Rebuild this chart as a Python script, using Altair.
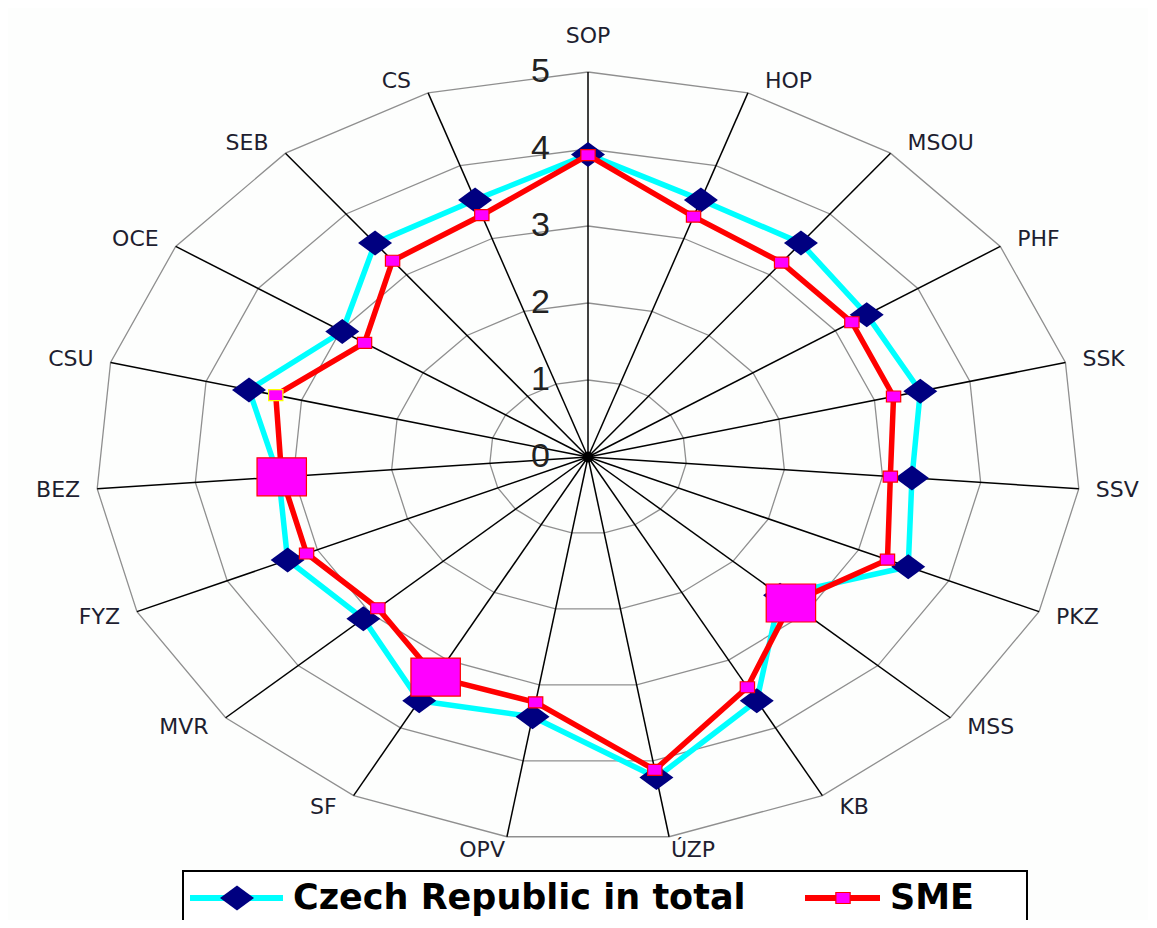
import altair as alt
import pandas as pd

# ---------------- data ----------------
labels = ["SOP", "HOP", "MSOU", "PHF", "SSK", "SSV", "PKZ", "MSS", "KB", "ÚZP",
          "OPV", "SF", "MVR", "FYZ", "BEZ", "CSU", "OCE", "SEB", "CS"]
cz_values = [3.93, 3.53, 3.52, 3.38, 3.48, 3.30, 3.55, 2.65, 3.60, 4.22,
             3.42, 3.60, 3.10, 3.33, 3.15, 3.55, 2.98, 3.52, 3.53]
sme_values = [3.92, 3.30, 3.20, 3.20, 3.20, 3.08, 3.32, 2.80, 3.40, 4.12,
              3.23, 3.25, 2.90, 3.12, 3.12, 3.27, 2.71, 3.23, 3.32]
sme_large = ["MSS", "SF", "BEZ"]
series_names = ["Czech Republic in total", "SME"]
ring_levels = [0, 1, 2, 3, 4, 5]

N = len(labels)
RMAX = 5

# ---------------- layout ----------------
W, H = 1140, 912
CX, CY = 580, 449          # centre of the radar in plot pixels
UX, UY = 98.5, 77.0        # pixels per unit (the original is stretched horizontally)
xdom = [-CX / UX, (W - CX) / UX]
ydom = [-(H - CY) / UY, CY / UY]
xs = alt.Scale(domain=xdom, nice=False, zero=False)
ys = alt.Scale(domain=ydom, nice=False, zero=False)

DIAMOND = "M0,-1L1.36,0L0,1L-1.36,0Z"
SQUARE = "M-1.3,-1H1.3V1H-1.3Z"
THETA = f"2*PI*datum.idx/{N}"

# ---------------- tables ----------------
rows = []
for name, vals in zip(series_names, [cz_values, sme_values]):
    for i in range(N + 1):
        k = i % N
        rows.append({"series": name, "idx": i, "label": labels[k], "value": vals[k],
                     "big": 1 if (name == "SME" and labels[k] in sme_large) else 0})
series_df = pd.DataFrame(rows)

ring_df = pd.DataFrame([{"level": lv, "idx": i} for lv in ring_levels if lv > 0
                        for i in range(N + 1)])
spoke_df = pd.DataFrame({"idx": list(range(N)), "label": labels})
level_df = pd.DataFrame({"level": ring_levels})


def xy(chart, r):
    return chart.transform_calculate(
        theta=THETA,
        px=f"({r})*sin(datum.theta)",
        py=f"({r})*cos(datum.theta)",
    )


X = alt.X("px:Q", scale=xs, axis=None)
Y = alt.Y("py:Q", scale=ys, axis=None)

rings = xy(alt.Chart(ring_df), "datum.level").mark_line(
    color="#8f8f8f", strokeWidth=1.3
).encode(x=X, y=Y, detail="level:N", order="idx:Q")

spokes = alt.Chart(spoke_df).transform_calculate(
    theta=THETA,
    x0="0", y0="0",
    x1=f"{RMAX}*sin(datum.theta)",
    y1=f"{RMAX}*cos(datum.theta)",
).mark_rule(color="#000000", strokeWidth=1.5).encode(
    x=alt.X("x0:Q", scale=xs, axis=None),
    y=alt.Y("y0:Q", scale=ys, axis=None),
    x2="x1:Q", y2="y1:Q",
)

center_dot = alt.Chart(pd.DataFrame({"v": [0]})).transform_calculate(
    px="0", py="0"
).mark_point(shape="circle", filled=True, color="#000000", size=120, opacity=1).encode(x=X, y=Y)

cz_base = xy(alt.Chart(series_df).transform_filter(alt.datum.series == series_names[0]),
             "datum.value")
sme_base = xy(alt.Chart(series_df).transform_filter(alt.datum.series == series_names[1]),
              "datum.value")

cz_line = cz_base.mark_line(color="#00FFFF", strokeWidth=5.5, strokeJoin="round").encode(
    x=X, y=Y, order="idx:Q")
cz_pts = cz_base.transform_filter(alt.datum.idx < N).mark_point(
    shape=DIAMOND, filled=True, fill="#000080", strokeWidth=0, size=625, opacity=1
).encode(x=X, y=Y)

sme_line = sme_base.mark_line(color="#FF0000", strokeWidth=5.5, strokeJoin="round").encode(
    x=X, y=Y, order="idx:Q")
sme_pts = sme_base.transform_filter(alt.datum.idx < N).transform_calculate(
    msize="datum.big == 1 ? 1444 : 121"
).mark_point(
    shape=SQUARE, filled=True, fill="#FF00FF", strokeWidth=1.2, opacity=1
).encode(
    x=X, y=Y,
    size=alt.Size("msize:Q", scale=None, legend=None),
    stroke=alt.condition(alt.datum.label == "CSU", alt.value("#FFFF00"), alt.value("#FF0000")),
)

# category labels around the web
lab_base = alt.Chart(spoke_df).transform_calculate(
    theta=THETA,
    s="sin(datum.theta)",
    c="cos(datum.theta)",
).transform_calculate(
    gx="abs(datum.s) > 0.3 ? (datum.s > 0 ? 17 : -17) : (abs(datum.s) > 0.05 ? (datum.s > 0 ? 2 : -2) : 0)",
    gy="abs(datum.s) < 0.05 ? -36 : -13*datum.c",
).transform_calculate(
    px=f"{RMAX}*datum.s + datum.gx/{UX}",
    py=f"{RMAX}*datum.c - datum.gy/{UY}",
)
lab_style = dict(font="DejaVu Sans", fontSize=22, color="#1e1e30", baseline="middle")
lab_right = lab_base.transform_filter("datum.s > 0.05").mark_text(align="left", **lab_style).encode(
    x=X, y=Y, text="label:N")
lab_left = lab_base.transform_filter("datum.s < -0.05").mark_text(align="right", **lab_style).encode(
    x=X, y=Y, text="label:N")
lab_mid = lab_base.transform_filter("abs(datum.s) <= 0.05").mark_text(align="center", **lab_style).encode(
    x=X, y=Y, text="label:N")

# ring value labels along the top spoke
ring_text = alt.Chart(level_df).transform_calculate(
    px="0", py="datum.level"
).mark_text(font="Liberation Sans", fontSize=34, color="#222222", align="right",
            baseline="middle", dx=-38).encode(x=X, y=Y, text="level:Q")

# ---------------- legend (drawn by hand, as in the original) ----------------
leg_df0 = pd.DataFrame({"series": [series_names[0]]})
leg_df1 = pd.DataFrame({"series": [series_names[1]]})
LY = 890
leg_box = alt.Chart(leg_df0).mark_rect(fill="#FFFFFF", stroke="#000000", strokeWidth=2).encode(
    x=alt.value(175), x2=alt.value(1019), y=alt.value(863), y2=alt.value(960))
leg_line0 = alt.Chart(leg_df0).mark_rule(color="#00FFFF", strokeWidth=6).encode(
    x=alt.value(182), x2=alt.value(275), y=alt.value(LY))
leg_pt0 = alt.Chart(leg_df0).mark_point(shape=DIAMOND, filled=True, fill="#000080",
                                        strokeWidth=0, size=625, opacity=1).encode(
    x=alt.value(229), y=alt.value(LY))
leg_txt0 = alt.Chart(leg_df0).mark_text(font="DejaVu Sans", fontWeight="bold", fontSize=35,
                                        align="left", baseline="middle", color="#000000").encode(
    x=alt.value(285), y=alt.value(LY), text="series:N")
leg_line1 = alt.Chart(leg_df1).mark_rule(color="#FF0000", strokeWidth=6).encode(
    x=alt.value(797), x2=alt.value(872), y=alt.value(LY))
leg_pt1 = alt.Chart(leg_df1).mark_point(shape=SQUARE, filled=True, fill="#FF00FF", stroke="#FF0000",
                                        strokeWidth=1.2, size=121, opacity=1).encode(
    x=alt.value(835), y=alt.value(LY))
leg_txt1 = alt.Chart(leg_df1).mark_text(font="DejaVu Sans", fontWeight="bold", fontSize=35,
                                        align="left", baseline="middle", color="#000000").encode(
    x=alt.value(882), y=alt.value(LY), text="series:N")

chart = alt.layer(
    rings, spokes, center_dot, ring_text,
    cz_line, cz_pts, sme_line, sme_pts,
    lab_right, lab_left, lab_mid,
    leg_box, leg_line0, leg_pt0, leg_txt0, leg_line1, leg_pt1, leg_txt1,
).properties(
    width=W, height=H,
    autosize=alt.AutoSizeParams(type="none"),
    padding=0,
    background="#FDFEFD",
).configure_view(stroke=None)

chart.save("out.html", embed_options={"renderer": "svg", "actions": False})
